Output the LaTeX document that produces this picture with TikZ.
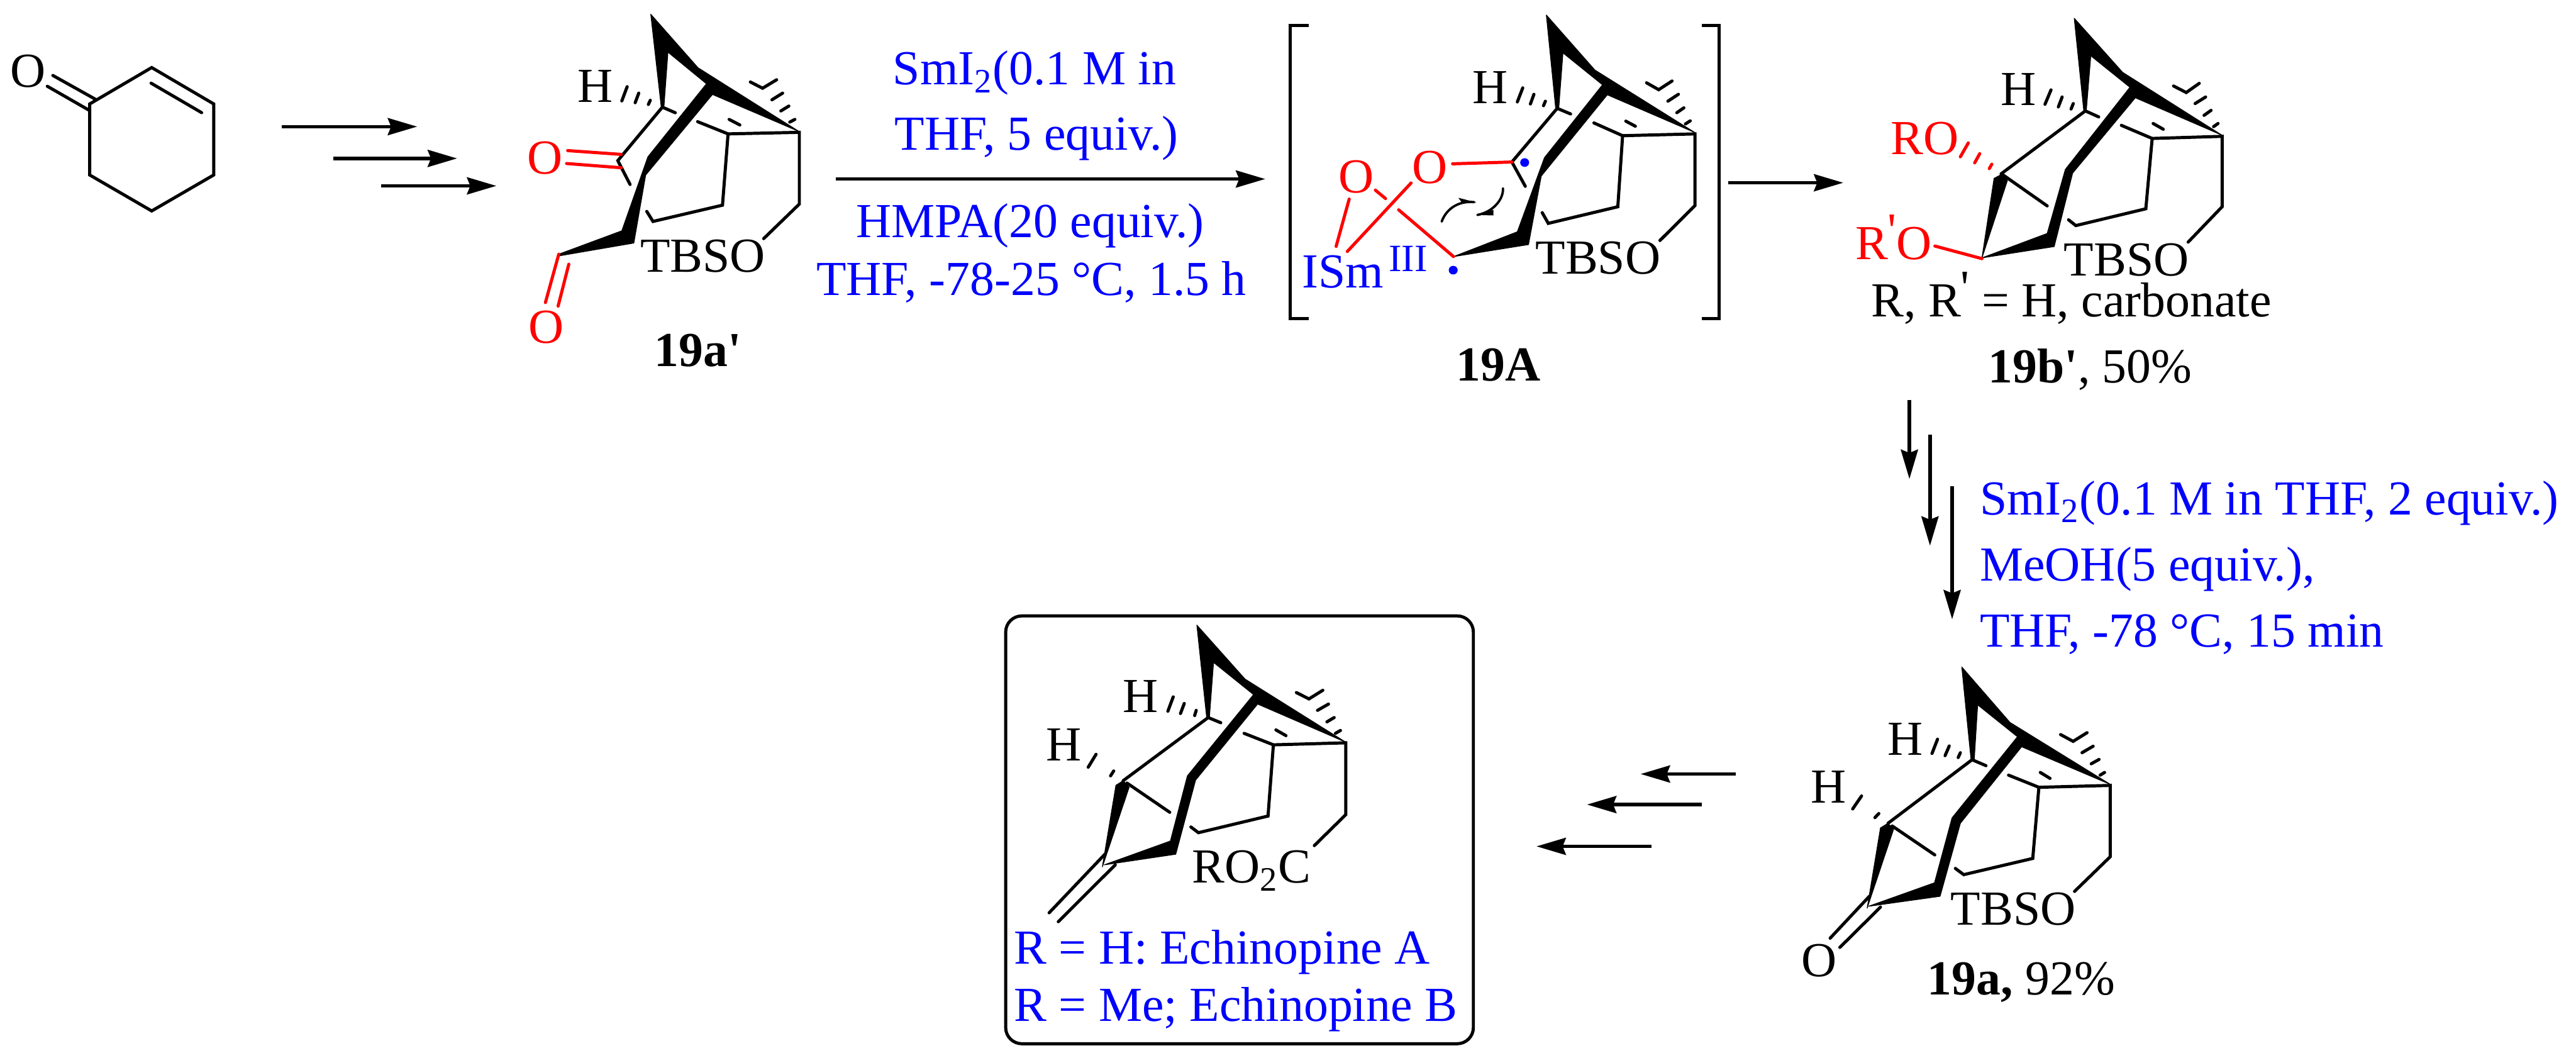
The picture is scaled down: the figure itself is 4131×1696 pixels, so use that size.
\documentclass[tikz,border=0pt]{standalone}
\usepackage{fontspec}
\usetikzlibrary{arrows.meta}
\newfontfamily\tms{Liberation Serif}
\definecolor{rxblue}{RGB}{0,0,255}
\definecolor{atomred}{RGB}{255,0,0}
\tikzset{
  txt/.style={inner sep=0pt,outer sep=0pt,anchor=base,font=\tms\fontsize{19.6}{22}\selectfont},
  ltxt/.style={txt,anchor=base west},
  blu/.style={text=rxblue},
  rd/.style={text=atomred},
  bond/.style={line width=1.25pt,line cap=round,line join=miter},
  rbond/.style={bond,draw=atomred},
  bold/.style={fill=black,draw=black,line width=.3pt,line join=round},
  rxn/.style={line width=1.4pt,-{Stealth[length=11.75pt,width=6.8pt,inset=1.3pt]}},
  mA/.style={x=.0893pt,y=-.0893pt,shift={(195pt,-5pt)}},
  mB/.style={x=.1279pt,y=-.10246pt,shift={(490pt,-5pt)}},
  mC/.style={x=.12755pt,y=-.1052pt,shift={(690pt,-5pt)}},
  mD/.style={x=.12626pt,y=-.1151pt,shift={(397.5pt,-242.5pt)}},
  mE/.style={x=.1116pt,y=-.1084pt,shift={(700pt,-250pt)}},
  mF/.style={x=.1308pt,y=-.0833pt,shift={(0pt,-10pt)}},
}
\begin{document}
\begin{tikzpicture}[x=.25pt,y=-.25pt]
\useasboundingbox (0,0) rectangle (4131,1696);
\fill[white] (0,0) rectangle (4131,1696);

% cyclohexenone
\begin{scope}[mF]
\node[txt] (tO0) at (85,300) {O};
\draw[bond,line join=miter] (275,380)--(465,205)--(655,380)--(655,722)--(465,895)--(275,722)--cycle;
\draw[bond] (463,280)--(618,422) (162,243)--(293,358) (145,295)--(275,412);
\end{scope}

% arrows
\coordinate (a1s) at (452,203); \coordinate (a1e) at (669,203);
\coordinate (a2s) at (535,254); \coordinate (a2e) at (733,254);
\coordinate (a3s) at (611,298); \coordinate (a3e) at (796,298);
\coordinate (a4s) at (1340,287); \coordinate (a4e) at (2029,287);
\coordinate (a5s) at (2771,293); \coordinate (a5e) at (2956,293);
\coordinate (a6s) at (3062,641); \coordinate (a6e) at (3062,768);
\coordinate (a7s) at (3095,697); \coordinate (a7e) at (3095,875);
\coordinate (a8s) at (3130.5,780); \coordinate (a8e) at (3130.5,993);
\coordinate (a9s) at (2784,1241); \coordinate (a9e) at (2631,1241);
\coordinate (a10s) at (2729,1290); \coordinate (a10e) at (2545,1290);
\coordinate (a11s) at (2648,1357); \coordinate (a11e) at (2464,1357);
\foreach \n in {1,...,11} \draw[rxn] (a\n s)--(a\n e);

% reagents, first step
\node[txt,blu] (r1) at (1659,136) {SmI\textsubscript{2}(0.1 M in};
\node[txt,blu] (r2) at (1662,241) {THF, 5 equiv.)};
\node[txt,blu] (r3) at (1652,381) {HMPA(20 equiv.)};
\node[txt,blu] (r4) at (1654,473) {THF, -78-25 °C, 1.5 h};
% reagents, second step
\node[ltxt,blu] (r5) at (3175,825) {SmI\textsubscript{2}(0.1 M in THF, 2 equiv.)};
\node[ltxt,blu] (r6) at (3175,931) {MeOH(5 equiv.),};
\node[ltxt,blu] (r7) at (3175,1037) {THF, -78 °C, 15 min};

% 19a'
\begin{scope}[mA]
\fill[bold] (738,8)--(950,248)--(1405,535)--(1015,368)--(988,320)--(815,178)--(797,425)--(785,425)--cycle;
\fill[bold] (988,320)--(725,648)--(608,980)--(325,1085)--(330,1092)--(662,1035)--(715,730)--(1015,368)--cycle;
\draw[bond] (790,425)--(848,450) (790,425)--(590,665)--(645,772);
\draw[rbond] (365,620)--(605,637) (360,678)--(605,697);
\draw[bond] (948,490)--(1085,545)--(1405,538)--(1405,860)--(1245,1015);
\draw[bond] (1085,545)--(1060,865)--(748,938)--(720,893) (1090,480)--(1138,505);
\draw[bond] (1185,312)--(1240,340)--(1303,302) (1282,392)--(1330,362) (1322,442)--(1358,420) (1362,492)--(1385,480);
\draw[bond] (608,397)--(632,333) (668,405)--(684,362) (727,413)--(736,394);
\draw[rbond] (325,1085)--(265,1302) (370,1130)--(322,1318);
\node[txt] (tH1) at (490,403) {H};
\node[txt,rd] (tO1) at (262,725) {O};
\node[txt] (tT1) at (972,1165) {TBSO};
\node[txt,rd] (tO2) at (268,1485) {O};
\node[txt,font=\tms\bfseries\fontsize{19.6}{22}\selectfont] (tL1) at (950,1590) {19a'};
\end{scope}

% 19A
\begin{scope}[mB]
\draw[line width=1.25pt] (272,50)--(213,50)--(213,1198)--(272,1198);
\draw[line width=1.25pt] (1503,50)--(1558,50)--(1558,1198)--(1503,1198);
\fill[bold] (1016,10)--(1168,225)--(1482,470)--(1207,322)--(1192,283)--(1068,158)--(1055,372)--(1045,372)--cycle;
\fill[bold] (1192,283)--(1010,568)--(925,858)--(725,955)--(960,908)--(1000,640)--(1207,322)--cycle;
\draw[bond] (1050,375)--(1092,397) (1050,375)--(908,585)--(950,680);
\draw[rbond] (722,592)--(908,585);
\draw[bond] (1165,432)--(1255,482)--(1482,475)--(1482,755)--(1372,892);
\draw[bond] (1255,482)--(1240,760)--(1022,825)--(1003,783) (1265,425)--(1295,445);
\draw[bond] (1330,275)--(1368,302)--(1410,268) (1397,347)--(1430,320) (1425,392)--(1447,373) (1452,436)--(1467,424);
\draw[bond] (925,350)--(942,295) (966,358)--(977,320) (1007,365)--(1013,347);
\draw[rbond] (357,915)--(398,730) (480,695)--(512,728) (392,935)--(592,667) (553,772)--(725,955);
\draw[line width=.95pt,line cap=round] (688,818) .. controls (700,775) and (735,735) .. (790,742);
\draw[line width=.95pt,line cap=round] (880,688) .. controls (882,730) and (850,780) .. (800,792);
\fill[black] (797,743)--(740,725)--(752,745)--cycle;
\fill[black] (795,792)--(850,772)--(850,794)--cycle;
\fill[rxblue] (948,587) ellipse [x radius=14,y radius=17];
\fill[rxblue] (724,1008) ellipse [x radius=14,y radius=17];
\node[txt] (tH2) at (840,355) {H};
\node[txt,rd] (tO3) at (650,668) {O};
\node[txt,rd] (tO4) at (420,705) {O};
\node[ltxt,blu] (tS) at (250,1077) {ISm};
\node[ltxt,blu,font=\tms\fontsize{15.5}{18}\selectfont] (tIII) at (522,1013) {III};
\node[txt] (tT2) at (1178,1023) {TBSO};
\node[txt,font=\tms\bfseries\fontsize{19.6}{22}\selectfont] (tL2) at (865,1440) {19A};
\end{scope}

% 19b'
\begin{scope}[mC]
\fill[bold] (1110,22)--(1262,228)--(1575,468)--(1302,325)--(1285,285)--(1162,165)--(1148,372)--(1140,375)--cycle;
\fill[bold] (1285,285)--(1082,598)--(1025,842)--(820,935)--(1047,892)--(1105,612)--(1302,325)--cycle;
\fill[bold] (820,935)--(858,632)--(885,615)--(900,640)--cycle;
\draw[bond] (1145,375)--(1187,398) (1145,375)--(880,615) (885,618)--(1025,737);
\draw[rbond] (752,550)--(777,497) (797,573)--(813,538) (843,595)--(851,578) (672,890)--(820,938);
\draw[bond] (1258,430)--(1355,480)--(1575,472)--(1575,740)--(1468,875);
\draw[bond] (1355,480)--(1335,748)--(1115,812)--(1092,790) (1358,423)--(1390,445);
\draw[bond] (1422,280)--(1462,305)--(1503,270) (1490,347)--(1523,322) (1518,392)--(1540,373) (1548,435)--(1562,423);
\draw[bond] (1018,350)--(1037,295) (1060,360)--(1072,322) (1100,368)--(1107,347);
\node[txt] (tH3) at (935,355) {H};
\node[txt,rd] (tRO) at (640,540) {RO};
\node[ltxt,rd] (tRpO) at (422,940) {R\raisebox{5pt}{'}O};
\node[txt] (tT3) at (1274,1003) {TBSO};
\node[ltxt] (tRR) at (472,1160) {R, R\raisebox{5pt}{'} = H, carbonate};
\node[ltxt] (tL3) at (840,1412) {\bfseries 19b'\mdseries, 50\%};
\end{scope}

% 19a
\begin{scope}[mE]
\fill[bold] (775,160)--(948,365)--(1310,595)--(990,455)--(975,418)--(832,300)--(820,500)--(808,500)--cycle;
\fill[bold] (975,418)--(740,718)--(677,958)--(440,1045)--(697,1008)--(770,738)--(990,455)--cycle;
\fill[bold] (435,1052)--(483,755)--(510,738)--(530,760)--cycle;
\draw[bond] (812,503)--(862,525) (812,503)--(510,738) (525,748)--(678,855);
\draw[bond] (668,480)--(688,427) (715,488)--(730,452) (762,495)--(770,477) (383,685)--(415,637) (463,717)--(477,702);
\draw[bond] (943,560)--(1052,605)--(1308,598)--(1308,862)--(1180,990);
\draw[bond] (1052,605)--(1030,868)--(782,928)--(752,905) (1057,550)--(1092,572);
\draw[bond] (1130,410)--(1175,435)--(1225,403) (1207,477)--(1247,453) (1240,518)--(1268,502) (1272,560)--(1288,550);
\draw[bond] (443,1008)--(302,1163) (483,1048)--(337,1197);
\node[txt] (tH4) at (572,487) {H};
\node[txt] (tH5) at (297,662) {H};
\node[txt] (tT4) at (960,1115) {TBSO};
\node[txt] (tO5) at (262,1305) {O};
\node[ltxt] (tL4) at (652,1373) {\bfseries 19a,\mdseries{} 92\%};
\end{scope}

% Echinopine
\begin{scope}[mD]
\draw[line width=1.25pt,rounded corners=6.5pt] (45,38) rectangle (1530,1528);
\fill[bold] (652,70)--(805,258)--(1125,478)--(845,345)--(832,312)--(705,200)--(692,390)--(683,390)--cycle;
\fill[bold] (832,312)--(622,595)--(568,822)--(358,905)--(585,868)--(648,610)--(845,345)--cycle;
\fill[bold] (352,912)--(395,628)--(418,612)--(437,635)--cycle;
\draw[bond] (688,392)--(728,410) (688,392)--(418,612) (430,620)--(566,722);
\draw[bond] (560,370)--(577,320) (600,378)--(612,343) (645,385)--(650,367) (307,565)--(332,520) (378,595)--(388,578);
\draw[bond] (802,447)--(895,487)--(1125,480)--(1125,730)--(1025,838);
\draw[bond] (895,487)--(878,735)--(657,793)--(633,773) (903,435)--(935,455);
\draw[bond] (968,305)--(1008,327)--(1052,297) (1035,367)--(1070,345) (1065,407)--(1088,392) (1092,447)--(1108,437);
\draw[bond] (360,868)--(183,1072) (393,905)--(212,1103);
\node[txt] (tH6) at (473,373) {H};
\node[txt] (tH7) at (230,543) {H};
\node[ltxt] (tRC) at (637,968) {RO\textsubscript{2}C};
\node[ltxt,blu] (tEA) at (72,1250) {R = H: Echinopine A};
\node[ltxt,blu] (tEB) at (72,1450) {R = Me; Echinopine B};
\end{scope}
\end{tikzpicture}
\end{document}
